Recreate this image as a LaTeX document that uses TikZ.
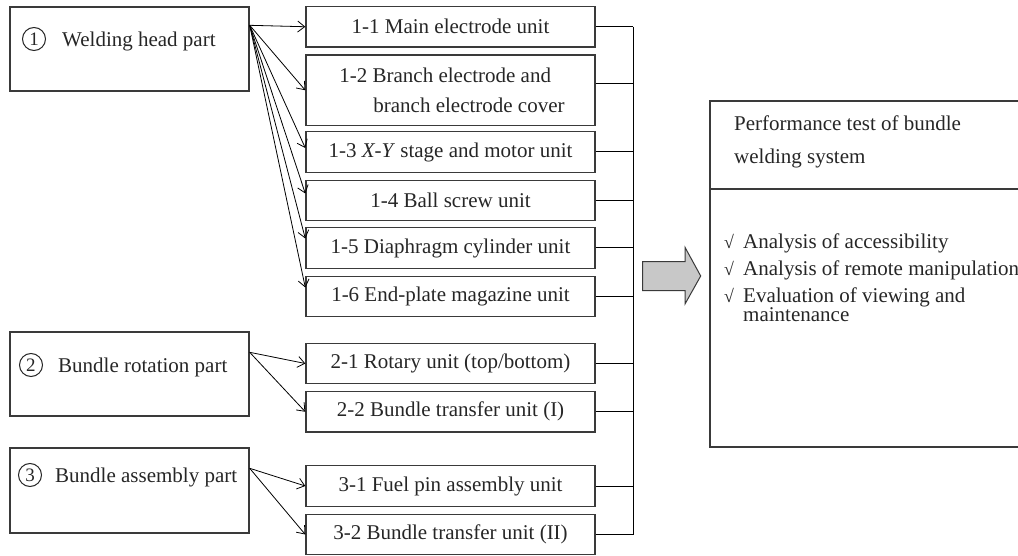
\documentclass[tikz,border=0pt]{standalone}
\usepackage{fontspec}
\setmainfont{Liberation Serif}
\usetikzlibrary{arrows.meta}
\definecolor{boxc}{HTML}{3A3A3A}
\definecolor{fatfill}{HTML}{C8C8C8}
\definecolor{txt}{HTML}{262626}
\begin{document}
\begin{tikzpicture}[x=1pt,y=-1pt,
  every node/.style={font=\fontsize{21}{25}\selectfont, text=txt},
  unitbox/.style={draw=boxc, line width=1.4pt, minimum width=289pt, minimum height=40.5pt, inner sep=0pt},
  partbox/.style={draw=boxc, line width=1.4pt, minimum width=239pt, minimum height=84pt, inner sep=0pt},
  perfbox/.style={draw=boxc, line width=1.2pt, minimum width=320pt, inner sep=0pt},
  numc/.style={circle, draw=txt, line width=1pt, inner sep=0pt, minimum size=23pt, font=\fontsize{19}{19}\selectfont},
  arr/.style={-{Straight Barb[length=7pt,width=11pt]}, line width=0.8pt},
  conn/.style={line width=1pt},
  lbl/.style={anchor=base west, inner sep=0pt},
  fatarrow/.style={draw=boxc, fill=fatfill, line width=1pt}
]
\useasboundingbox (0,0) rectangle (1018,556);
\clip (0,0) rectangle (1018,556);

% part boxes
\node[partbox] (p1) at (129.5,49) {};
\node[partbox] (p2) at (129.5,374) {};
\node[partbox, minimum height=85pt] (p3) at (129.5,490.5) {};
\node[numc] (n1) at (34,39) {1};
\node[lbl] (t1) at (62,47) {Welding head part};
\node[numc] (n2) at (31,365) {2};
\node[lbl] (t2) at (58,372) {Bundle rotation part};
\node[numc] (n3) at (30,475) {3};
\node[lbl] (t3) at (55,482) {Bundle assembly part};

% unit boxes
\node[unitbox] (b11) at (450.5,26.75) {1-1 Main electrode unit};
\node[unitbox, minimum height=70.5pt, align=left, font=\fontsize{21}{30}\selectfont] (b12) at (450.5,90.25)
  {\hspace*{3pt}1-2 Branch electrode and\\\hspace*{37pt}branch electrode cover};
\node[unitbox] (b13) at (450.5,152) {1-3 \textit{X-Y} stage and motor unit};
\node[unitbox] (b14) at (450.5,200.5) {1-4 Ball screw unit};
\node[unitbox] (b15) at (450.5,248) {1-5 Diaphragm cylinder unit};
\node[unitbox] (b16) at (450.5,296.5) {1-6 End-plate magazine unit};
\node[unitbox] (b21) at (450.5,363.5) {2-1 Rotary unit (top/bottom)};
\node[unitbox] (b22) at (450.5,411.75) {2-2 Bundle transfer unit (I)};
\node[unitbox] (b31) at (450.5,486) {3-1 Fuel pin assembly unit};
\node[unitbox] (b32) at (450.5,534.5) {3-2 Bundle transfer unit (II)};

% arrows from parts
\coordinate (s1) at ([yshift=-19pt]p1.north east);
\coordinate (s2) at ([yshift=-21pt]p2.north east);
\coordinate (s3) at ([yshift=-21pt]p3.north east);
\draw[arr] (s1) -- (b11.west);
\draw[arr] (s1) -- (b12.west);
\draw[arr] (s1) -- ([yshift=4pt]b13.west);
\draw[arr] (s1) -- ([yshift=7pt]b14.west);
\draw[arr] (s1) -- ([yshift=9.5pt]b15.west);
\draw[arr] (s1) -- ([yshift=9pt]b16.west);
\draw[arr] (s2) -- (b21.west);
\draw[arr] (s2) -- (b22.west);
\draw[arr] (s3) -- (b31.west);
\draw[arr] (s3) -- (b32.west);

% collecting bus
\coordinate (bus) at (633,0);
\foreach \b in {b11,b13,b14,b15,b16,b21,b22,b31,b32}
  \draw[conn] (\b.east) -- (\b.east -| bus);
\draw[conn] ([yshift=7pt]b12.east) -- ([yshift=7pt]b12.east -| bus);
\draw[conn] (b11.east -| bus) -- (b32.east -| bus);

% fat arrow
\draw[fatarrow] (642.7,261.7) -- (685,261.7) -- (685,247.3) -- (700.7,276) -- (685,304) -- (685,290.7) -- (642.7,290.7) -- cycle;

% performance box
\node[perfbox, minimum height=88pt] (perfhead) at (870,145) {};
\node[perfbox, minimum height=258pt] (perfbody) at (870,318) {};
\node[lbl] (ph1) at (734,131) {Performance test of bundle};
\node[lbl] (ph2) at (734,164) {welding system};
\node[lbl] (k1) at (724,249) {\makebox[19pt][l]{\fontsize{18}{18}\selectfont √}Analysis of accessibility};
\node[lbl] (k2) at (724,276) {\makebox[19pt][l]{\fontsize{18}{18}\selectfont √}Analysis of remote manipulation};
\node[lbl] (k3) at (724,302) {\makebox[19pt][l]{\fontsize{18}{18}\selectfont √}Evaluation of viewing and};
\node[lbl] (k4) at (743,321) {maintenance};
\end{tikzpicture}
\end{document}
